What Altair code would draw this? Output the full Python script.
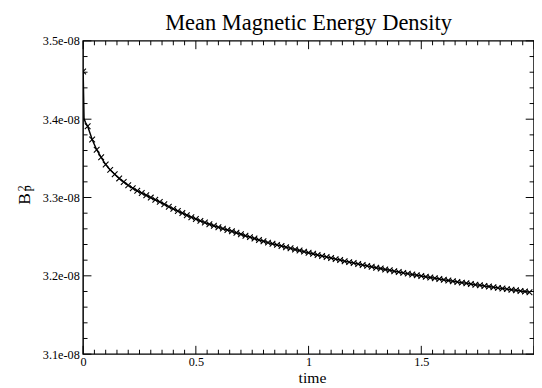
import altair as alt
import pandas as pd

# ---- data ----
time = [round(0.02 * i, 2) for i in range(100)]
energy_e8 = [
    3.461, 3.391, 3.374, 3.361, 3.3513, 3.3421, 3.3353, 3.3297, 3.3244, 3.3199,
    3.3156, 3.3119, 3.3086, 3.3057, 3.3029, 3.2999, 3.2971, 3.2944, 3.2914, 3.2883,
    3.2855, 3.2827, 3.2801, 3.2774, 3.2749, 3.2725, 3.2702, 3.268, 3.2658, 3.2639,
    3.262, 3.2603, 3.2585, 3.2568, 3.255, 3.2531, 3.2512, 3.2494, 3.2477, 3.2458,
    3.2442, 3.2424, 3.241, 3.2395, 3.2381, 3.2365, 3.2351, 3.2337, 3.2324, 3.2309,
    3.2295, 3.2281, 3.2267, 3.2253, 3.224, 3.2227, 3.2213, 3.2201, 3.2187, 3.2175,
    3.2163, 3.2151, 3.2138, 3.2127, 3.2116, 3.2104, 3.2093, 3.2081, 3.2071, 3.2059,
    3.2049, 3.2038, 3.2028, 3.2017, 3.2008, 3.1998, 3.1988, 3.1978, 3.1968, 3.1959,
    3.1949, 3.1941, 3.1931, 3.1922, 3.1913, 3.1905, 3.1895, 3.1887, 3.1879, 3.187,
    3.1863, 3.1854, 3.1846, 3.1838, 3.183, 3.1822, 3.1815, 3.1807, 3.1799, 3.1791,
]
early_time = [0.004, 0.01]
early_energy_e8 = [3.401, 3.396]

x_major = [0, 0.5, 1.0, 1.5, 2.0]
x_labels = [0, 0.5, 1.0, 1.5]
y_major_e8 = [3.1, 3.2, 3.3, 3.4, 3.5]
x_minor = [round(0.05 * k, 2) for k in range(41) if k % 10 != 0]
y_minor_e8 = [round(3.1 + 0.02 * k, 2) for k in range(21) if k % 5 != 0]

TITLE = "Mean Magnetic Energy Density"
XTITLE = "time"

# ---- layout ----
W, H = 462, 321
FONT = "Liberation Serif"
MAJ, MIN = 8.5, 4.5

markers = pd.DataFrame({"t": time, "v": [e * 1e-8 for e in energy_e8]})
line_df = pd.concat(
    [markers, pd.DataFrame({"t": early_time, "v": [e * 1e-8 for e in early_energy_e8]})]
).sort_values("t")

xscale = alt.Scale(domain=[0, 2], nice=False, zero=False)
yscale = alt.Scale(domain=[3.1e-8, 3.5e-8], nice=False, zero=False)
xaxis = alt.Axis(values=x_labels, format="~g", title=None, grid=False, ticks=False,
                 tickSize=0, domain=False, labelFlush=False, labelPadding=2,
                 labelFont=FONT, labelFontSize=12.5, labelColor="black")
yaxis = alt.Axis(values=[v * 1e-8 for v in y_major_e8],
                 labelExpr="format(datum.value * 1e8, '.1f') + 'e-08'",
                 title=None, grid=False, ticks=False, tickSize=0, domain=False,
                 labelFlush=False, labelPadding=4,
                 labelFont=FONT, labelFontSize=12.5, labelColor="black")

X = alt.X("t:Q", scale=xscale, axis=xaxis)
Y = alt.Y("v:Q", scale=yscale, axis=yaxis)

line = alt.Chart(line_df).mark_line(color="black", strokeWidth=1.5, clip=True).encode(
    x=X, y=Y, order="t:Q")
points = alt.Chart(markers).mark_point(
    shape="M -1 -1 L 1 1 M -1 1 L 1 -1", filled=False, size=34, strokeWidth=1.1,
    color="black", opacity=1, clip=True).encode(x=X, y=Y)

xmaj_df = pd.DataFrame({"t": x_major})
xmin_df = pd.DataFrame({"t": x_minor})
ymaj_df = pd.DataFrame({"v": [v * 1e-8 for v in y_major_e8]})
ymin_df = pd.DataFrame({"v": [v * 1e-8 for v in y_minor_e8]})

tick_layers = []
for df, ln in ((xmaj_df, MAJ), (xmin_df, MIN)):
    tick_layers.append(alt.Chart(df).mark_rule(color="black", strokeWidth=1).encode(
        x=X, y=alt.value(H), y2=alt.value(H - ln)))
    tick_layers.append(alt.Chart(df).mark_rule(color="black", strokeWidth=1).encode(
        x=X, y=alt.value(0), y2=alt.value(ln)))
for df, ln in ((ymaj_df, MAJ), (ymin_df, MIN)):
    tick_layers.append(alt.Chart(df).mark_rule(color="black", strokeWidth=1).encode(
        y=Y, x=alt.value(0), x2=alt.value(ln)))
    tick_layers.append(alt.Chart(df).mark_rule(color="black", strokeWidth=1).encode(
        y=Y, x=alt.value(W), x2=alt.value(W - ln)))

one = alt.Data(values=[{}])
title = alt.Chart(one).mark_text(text=TITLE, font=FONT, fontSize=23, align="center",
                                 baseline="alphabetic", color="black").encode(
    x=alt.value(231), y=alt.value(-11))
xtitle = alt.Chart(one).mark_text(text=XTITLE, font=FONT, fontSize=16, align="center",
                                  baseline="alphabetic", color="black").encode(
    x=alt.value(235), y=alt.value(350.5))
ytitle_b = alt.Chart(one).mark_text(text="B", font=FONT, fontSize=18, angle=270,
                                    align="center", baseline="alphabetic", color="black").encode(
    x=alt.value(-54), y=alt.value(162))
ytitle_sup = alt.Chart(one).mark_text(text="2", font=FONT, fontSize=12, angle=270,
                                      align="center", baseline="alphabetic", color="black").encode(
    x=alt.value(-59), y=alt.value(151))
ytitle_sub = alt.Chart(one).mark_text(text="p", font=FONT, fontSize=12, angle=270,
                                      align="center", baseline="alphabetic", color="black").encode(
    x=alt.value(-53), y=alt.value(151))

chart = alt.layer(
    line, points, *tick_layers, title, xtitle, ytitle_b, ytitle_sup, ytitle_sub
).properties(
    width=W, height=H,
    autosize=alt.AutoSizeParams(type="none"),
    padding={"left": 77, "top": 29, "right": 0, "bottom": 30},
    background="white",
).configure_view(stroke="black", strokeWidth=1.5)

chart.save("out.html", embed_options={"renderer": "svg", "actions": False})
